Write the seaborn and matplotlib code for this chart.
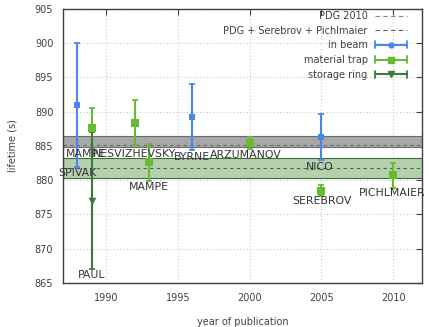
import numpy as np
import pandas as pd
import matplotlib
matplotlib.use("Agg")
import matplotlib.pyplot as plt
import seaborn as sns
from matplotlib.legend_handler import HandlerBase
from matplotlib.lines import Line2D

# ---- data ----
beam_year = [1988, 1996, 2005]
beam_tau = [891.0, 889.2, 886.3]
beam_err = [9.0, 4.8, 3.4]

trap_year = [1989, 1992, 1993, 2000, 2005, 2010]
trap_tau = [887.6, 888.4, 882.6, 885.4, 878.5, 880.7]
trap_err = [3.0, 3.3, 2.7, 0.9, 0.8, 1.8]

ring_year = [1989]
ring_tau = [877.0]
ring_err = [10.0]

pdg_low, pdg_high, pdg_line = 884.9, 886.5, 885.1
comb_low, comb_high, comb_line = 880.4, 883.3, 881.8

label_text = ["MAMPE", "NESVIZHEVSKY", "SPIVAK", "PAUL", "MAMPE", "BYRNE",
              "ARZUMANOV", "NICO", "SEREBROV", "PICHLMAIER"]
label_x = [1988.6, 1992.0, 1988.0, 1989.0, 1993.0, 1996.0, 1999.7, 2004.9, 2005.0, 2009.9]
label_y = [883.8, 883.8, 881.1, 866.1, 879.0, 883.4, 883.7, 882.0, 876.9, 878.1]

xticks = [1990, 1995, 2000, 2005, 2010]
yticks = [865, 870, 875, 880, 885, 890, 895, 900, 905]

c_beam = "#4a86f0"
c_trap = "#66bb33"
c_ring = "#3b7a3b"
c_text = "#404040"

sns.set_style("white")
plt.rcParams["font.family"] = ["DejaVu Sans"]
plt.rcParams["font.size"] = 7

fig = plt.figure(figsize=(4.29, 3.27), dpi=100)
ax = fig.add_axes([63/429, 1-283/327, (422-63)/429, (283-9)/327])

# bands
ax.axhspan(pdg_low, pdg_high, facecolor="#a8a8a8", edgecolor="#6a6a6a", lw=0.8, zorder=1)
ax.axhline(pdg_line, color="#666666", lw=0.8, ls=(0, (3, 3)), zorder=1.5)
ax.axhspan(comb_low, comb_high, facecolor="#b5d0ae", edgecolor="#3b6a3b", lw=0.8, zorder=1)
ax.axhline(comb_line, color="#3b6a3b", lw=0.8, ls=(0, (3, 3)), zorder=1.5)

# data frames
df_beam = pd.DataFrame({"year": beam_year, "tau": beam_tau, "err": beam_err})
df_trap = pd.DataFrame({"year": trap_year, "tau": trap_tau, "err": trap_err})
df_ring = pd.DataFrame({"year": ring_year, "tau": ring_tau, "err": ring_err})

ekw = dict(lw=1.5, capsize=2.2, capthick=1.3, zorder=3)
ax.errorbar(df_beam.year, df_beam.tau, yerr=df_beam.err, fmt="none", ecolor=c_beam, **ekw)
ax.errorbar(df_trap.year, df_trap.tau, yerr=df_trap.err, fmt="none", ecolor=c_trap, **ekw)
ax.errorbar(df_ring.year, df_ring.tau, yerr=df_ring.err, fmt="none", ecolor=c_ring, **ekw)

sns.scatterplot(data=df_beam, x="year", y="tau", marker="s", color=c_beam, s=22,
                linewidth=0, ax=ax, zorder=4, legend=False)
sns.scatterplot(data=df_trap, x="year", y="tau", marker="s", color=c_trap, s=30,
                linewidth=0, ax=ax, zorder=4, legend=False)
sns.scatterplot(data=df_ring, x="year", y="tau", marker="v", color=c_ring, s=30,
                linewidth=0, ax=ax, zorder=4, legend=False)

for t, x, y in zip(label_text, label_x, label_y):
    ax.text(x, y, t, ha="center", va="center", fontsize=7.8, color="#333333", zorder=5)

ax.set_xlim(1987, 2012)
ax.set_ylim(865, 905)
ax.set_xticks(xticks)
ax.set_yticks(yticks)
ax.grid(True, color="#c8c8c8", ls=(0, (1, 2)), lw=0.8)
ax.set_axisbelow(True)
ax.tick_params(direction="in", top=True, right=True, length=4, width=0.8,
               colors="#404040", labelcolor=c_text, labelsize=7, pad=7)
for s in ax.spines.values():
    s.set_color("#404040")
    s.set_linewidth(1.0)

ax.set_xlabel("year of publication", color=c_text, fontsize=7, labelpad=10)
ax.set_ylabel("lifetime (s)", color=c_text, fontsize=7, labelpad=12)


class ErrHandle:
    def __init__(self, color, marker, ms):
        self.color, self.marker, self.ms = color, marker, ms


class HandlerErr(HandlerBase):
    def create_artists(self, legend, orig, xd, yd, w, h, fs, trans):
        y = h / 2 - yd
        x0, x1 = -xd, -xd + w
        line = Line2D([x0, x1], [y, y], color=orig.color, lw=1.5, transform=trans)
        cap0 = Line2D([x0, x0], [y - 2.5, y + 2.5], color=orig.color, lw=1.3, transform=trans)
        cap1 = Line2D([x1, x1], [y - 2.5, y + 2.5], color=orig.color, lw=1.3, transform=trans)
        mk = Line2D([(x0 + x1) / 2], [y], marker=orig.marker, color=orig.color,
                    ms=orig.ms, lw=0, transform=trans)
        return [line, cap0, cap1, mk]


handles = [
    Line2D([], [], color="#888888", lw=0.8, ls=(0, (4, 3))),
    Line2D([], [], color="#3b7a3b", lw=0.8, ls=(0, (4, 3))),
    ErrHandle(c_beam, "o", 3.5),
    ErrHandle(c_trap, "s", 4.2),
    ErrHandle(c_ring, "v", 4.2),
]
labels = ["PDG 2010", "PDG + Serebrov + Pichlmaier", "in beam", "material trap", "storage ring"]
leg = ax.legend(handles, labels, handler_map={ErrHandle: HandlerErr()},
                loc="upper right", bbox_to_anchor=(0.965, 1.0), frameon=False,
                markerfirst=False, handlelength=3.3, handletextpad=0.8,
                labelspacing=0.48, borderpad=0.2, borderaxespad=0, fontsize=7)
for t in leg.get_texts():
    t.set_color(c_text)

fig.savefig("out.png", dpi=100)
